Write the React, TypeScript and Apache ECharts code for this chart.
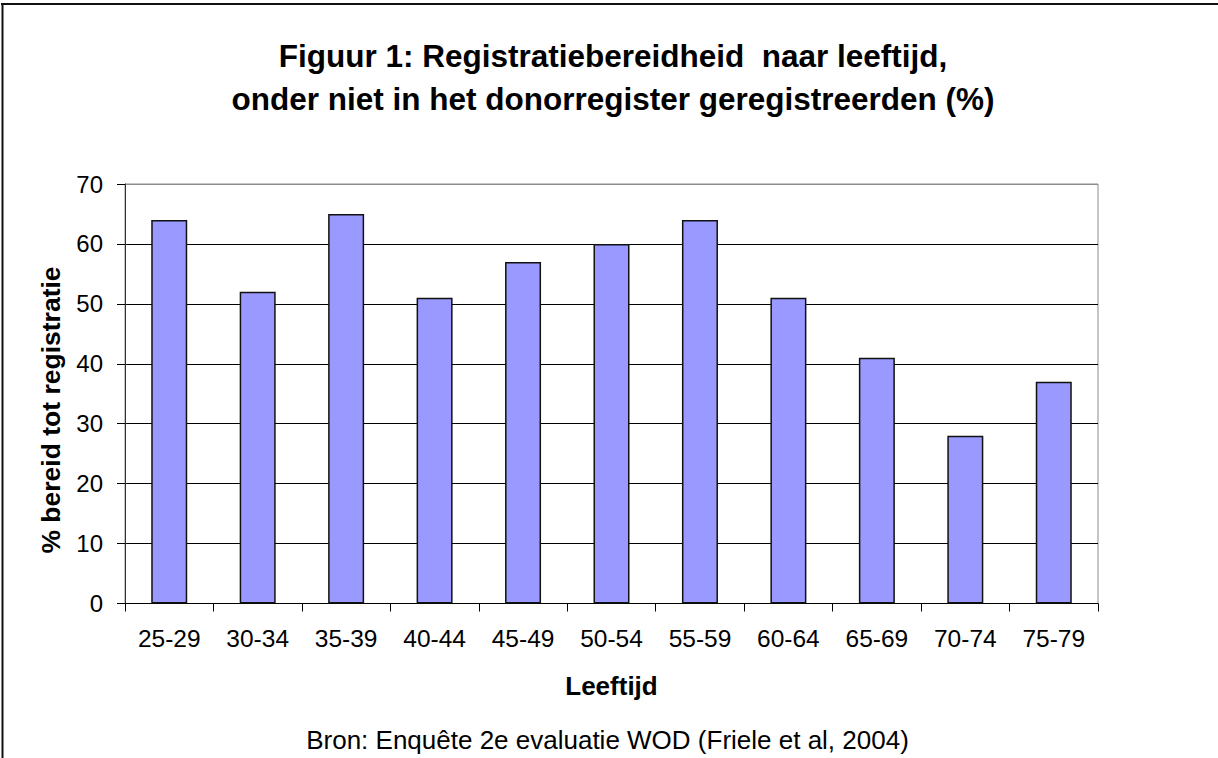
import React, { useEffect, useRef } from "react";
import * as echarts from "echarts";

const categories = ["25-29", "30-34", "35-39", "40-44", "45-49", "50-54", "55-59", "60-64", "65-69", "70-74", "75-79"];
const values = [64, 52, 65, 51, 57, 60, 64, 51, 41, 28, 37];
const titleLines = [
  "Figuur 1: Registratiebereidheid  naar leeftijd,",
  "onder niet in het donorregister geregistreerden (%)",
];
const yAxisTitle = "% bereid tot registratie";
const xAxisTitle = "Leeftijd";
const sourceNote = "Bron: Enquête 2e evaluatie WOD (Friele et al, 2004)";
const yMin = 0;
const yMax = 70;
const yStep = 10;

const FONT = "'Liberation Sans', Arial, Helvetica, sans-serif";

export default function App() {
  const ref = useRef<HTMLDivElement>(null);

  useEffect(() => {
    if (!ref.current) return;
    const chart = echarts.init(ref.current, null, { renderer: "svg" });
    const splitColors = [] as string[];
    for (let v = yMin; v <= yMax; v += yStep) splitColors.push(v === yMax ? "#8c8c8c" : "#000000");

    chart.setOption({
      animation: false,
      backgroundColor: "#ffffff",
      textStyle: { fontFamily: FONT },
      grid: {
        left: 125,
        right: 120,
        top: 184,
        bottom: 154.5,
        show: true,
        borderColor: "#8c8c8c",
        borderWidth: 1,
        containLabel: false,
      },
      xAxis: {
        type: "category",
        data: categories,
        boundaryGap: true,
        name: xAxisTitle,
        nameLocation: "middle",
        nameGap: 82,
        nameTextStyle: {
          fontFamily: FONT,
          fontWeight: "bold",
          fontSize: 26,
          color: "#000",
          verticalAlign: "middle",
        },
        axisLine: { show: true, lineStyle: { color: "#000", width: 1 } },
        axisTick: { show: true, length: 8, lineStyle: { color: "#000", width: 1 } },
        axisLabel: { color: "#000", fontSize: 24.5, fontFamily: FONT, margin: 22, interval: 0 },
        splitLine: { show: false },
      },
      yAxis: {
        type: "value",
        min: yMin,
        max: yMax,
        interval: yStep,
        axisLine: { show: true, lineStyle: { color: "#333", width: 1 } },
        axisTick: { show: true, length: 8, lineStyle: { color: "#000", width: 1 } },
        axisLabel: { color: "#000", fontSize: 24, fontFamily: FONT, margin: 22 },
        splitLine: { show: true, lineStyle: { color: splitColors, width: 1 } },
      },
      series: [
        {
          type: "bar",
          data: values,
          barWidth: 36,
          itemStyle: { color: "#9999ff", borderColor: "#111", borderWidth: 1.5 },
        },
      ],
      graphic: [
        { type: "line", shape: { x1: 1, y1: 4, x2: 1218, y2: 4 }, style: { stroke: "#111", lineWidth: 2 } },
        { type: "line", shape: { x1: 2.5, y1: 3, x2: 2.5, y2: 758 }, style: { stroke: "#111", lineWidth: 2 } },
        {
          type: "text",
          x: 613,
          y: 55.8,
          style: { text: titleLines[0], font: `bold 31.5px ${FONT}`, fill: "#000", align: "center", verticalAlign: "middle" },
        },
        {
          type: "text",
          x: 613,
          y: 99.2,
          style: { text: titleLines[1], font: `bold 31.5px ${FONT}`, fill: "#000", align: "center", verticalAlign: "middle" },
        },
        {
          type: "text",
          x: 51,
          y: 410,
          rotation: Math.PI / 2,
          style: { text: yAxisTitle, font: `bold 26.5px ${FONT}`, fill: "#000", align: "center", verticalAlign: "middle" },
        },
        {
          type: "text",
          x: 607.5,
          y: 740,
          style: { text: sourceNote, font: `26px ${FONT}`, fill: "#000", align: "center", verticalAlign: "middle" },
        },
      ],
    });
    return () => chart.dispose();
  }, []);

  return (
    <div
      ref={ref}
      style={{ position: "fixed", left: 0, top: 0, width: 1218, height: 758, background: "#fff" }}
    />
  );
}
